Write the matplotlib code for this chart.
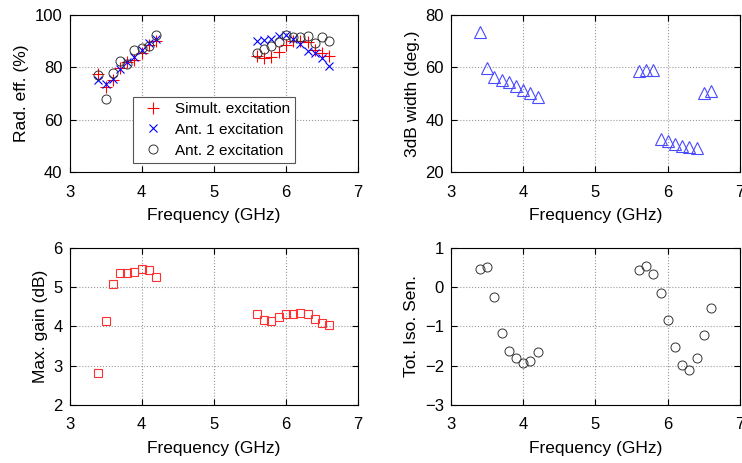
import numpy as np
import matplotlib.pyplot as plt

plt.rcParams['font.family'] = ['Liberation Sans', 'DejaVu Sans']
plt.rcParams['font.size'] = 10

freq = [3.4, 3.5, 3.6, 3.7, 3.8, 3.9, 4.0, 4.1, 4.2,
        5.6, 5.7, 5.8, 5.9, 6.0, 6.1, 6.2, 6.3, 6.4, 6.5, 6.6]

eff_simult = [77.4, 72.5, 75.2, 79.9, 81.9, 82.8, 85.6, 88.5, 90.2,
              84.3, 83.7, 84.1, 86.0, 88.5, 90.0, 90.0, 89.7, 86.6, 85.3, 84.3]
eff_ant1 = [75.2, 73.6, 75.7, 79.4, 82.1, 84.1, 86.6, 89.2, 90.7,
            90.0, 90.4, 90.7, 92.0, 92.3, 91.0, 88.9, 86.4, 85.3, 83.4, 80.6]
eff_ant2 = [77.0, 67.9, 77.7, 82.4, 81.1, 86.6, 87.5, 88.0, 92.3,
            85.3, 86.9, 88.3, 89.8, 92.3, 91.7, 91.7, 92.0, 89.4, 91.5, 90.2]

width_3db = [73.4, 59.6, 56.2, 55.2, 54.5, 52.9, 51.3, 50.1, 48.5,
             58.6, 58.9, 58.9, 32.7, 32.0, 30.7, 30.1, 29.7, 29.3, 50.3, 51.1]

max_gain = [2.81, 4.15, 5.09, 5.35, 5.35, 5.39, 5.47, 5.44, 5.26,
            4.33, 4.16, 4.14, 4.23, 4.33, 4.33, 4.35, 4.33, 4.18, 4.10, 4.05]

tis = [0.47, 0.51, -0.25, -1.16, -1.62, -1.80, -1.93, -1.89, -1.65,
       0.45, 0.53, 0.34, -0.15, -0.83, -1.51, -1.98, -2.10, -1.81, -1.22, -0.52]

fig = plt.figure(figsize=(7.42, 4.63), dpi=100)
ax1 = fig.add_axes([0.0937, 0.6285, 0.3888, 0.3391])
ax2 = fig.add_axes([0.6078, 0.6285, 0.3895, 0.3391])
ax3 = fig.add_axes([0.0937, 0.1253, 0.3888, 0.3391])
ax4 = fig.add_axes([0.6078, 0.1253, 0.3895, 0.3391])

ax1.plot(freq, eff_simult, '+', color='r', ms=8.5, mew=0.8, label='Simult. excitation')
ax1.plot(freq, eff_ant1, 'x', color='b', ms=6, mew=0.8, label='Ant. 1 excitation')
ax1.plot(freq, eff_ant2, 'o', mfc='none', mec='#333333', ms=6.5, mew=0.7, label='Ant. 2 excitation')
ax1.set_ylim(40, 100)
ax1.set_yticks([40, 60, 80, 100])
ax1.set_ylabel('Rad. eff. (%)', fontsize=12.5)
leg = ax1.legend(loc='lower left', bbox_to_anchor=(0.219, 0.057, 0.563, 0.408),
                 mode='expand', fancybox=False, edgecolor='#555555', framealpha=1,
                 fontsize=11, handletextpad=0.4, borderaxespad=0, labelspacing=0.45,
                 borderpad=0.35)
leg.get_frame().set_linewidth(0.8)

ax2.plot(freq, width_3db, '^', mfc='none', mec='#4a4aff', ms=8, mew=0.8)
ax2.set_ylim(20, 80)
ax2.set_yticks([20, 40, 60, 80])
ax2.set_ylabel('3dB width (deg.)', fontsize=12.5)

ax3.plot(freq, max_gain, 's', mfc='none', mec='#ff3030', ms=6, mew=0.8)
ax3.set_ylim(2, 6)
ax3.set_yticks([2, 3, 4, 5, 6])
ax3.set_ylabel('Max. gain (dB)', fontsize=12.5)

ax4.plot(freq, tis, 'o', mfc='none', mec='#333333', ms=6.5, mew=0.7)
ax4.set_ylim(-3, 1)
ax4.set_yticks([-3, -2, -1, 0, 1])
ax4.set_ylabel('Tot. Iso. Sen.', fontsize=12.5)

for ax in (ax1, ax2, ax3, ax4):
    ax.set_xlim(3, 7)
    ax.set_xticks([3, 4, 5, 6, 7])
    ax.set_xlabel('Frequency (GHz)', fontsize=12.5, labelpad=6)
    ax.grid(True, linestyle=':', color='#999999', linewidth=0.8)
    ax.tick_params(direction='in', top=True, right=True, labelsize=12, length=4)
    ax.tick_params(axis='x', pad=9)
    ax.tick_params(axis='y', pad=5)
    for s in ax.spines.values():
        s.set_linewidth(0.8)

fig.savefig('out.png', dpi=100)
